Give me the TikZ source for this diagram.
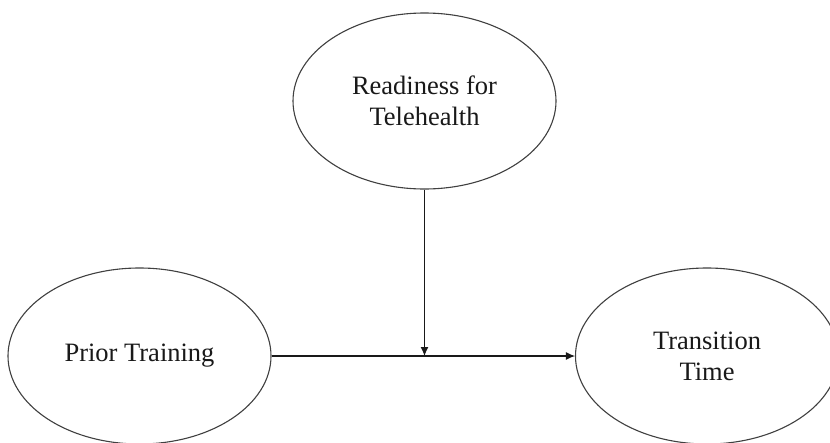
\documentclass[tikz,border=0pt]{standalone}
\usepackage{fontspec}
\setmainfont{Liberation Serif}
\usetikzlibrary{shapes.geometric,arrows.meta}
\begin{document}
\begin{tikzpicture}[x=1pt,y=-1pt,
  construct/.style={ellipse,draw=black!75,line width=1.1pt,
    minimum width=263pt,minimum height=176pt,inner sep=0pt,
    align=center,font=\fontsize{26.5}{31}\selectfont,text=black!90},
  path/.style={draw=black!90,line width=1.1pt,
    -{Latex[length=9pt,width=8pt]}}]
  \useasboundingbox (0,0) rectangle (830,442);
  \clip (0,0) rectangle (830,442);
  \fill[white] (0,0) rectangle (830,442);
  % constructs
  \node[construct] (ready) at (424.5,101) {Readiness for\\Telehealth};
  \node[construct] (prior) at (139.5,356) {Prior Training};
  \node[construct] (trans) at (707,356) {Transition\\Time};
  % moderation point on the main path
  \coordinate (mod) at (ready.south |- prior.east);
  % paths
  \draw[path] (prior.east) -- (trans.west);
  \draw[path] (ready.south) -- (mod);
\end{tikzpicture}
\end{document}
